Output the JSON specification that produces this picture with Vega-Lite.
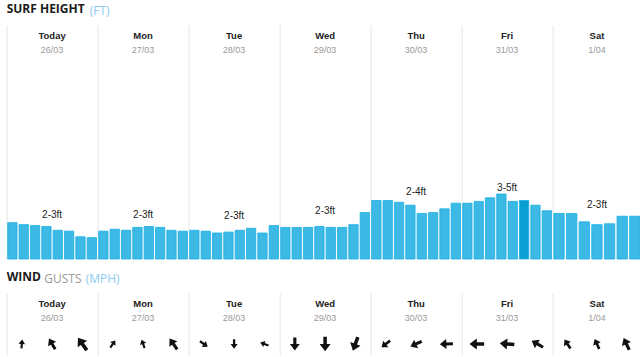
{
  "$schema": "https://vega.github.io/schema/vega-lite/v6.json",
  "padding": {"left": 6.7, "top": 3, "right": 0, "bottom": 0},
  "background": "white",
  "datasets": {
    "surf": [
      {"day": "Today", "hour": 0, "ft": 2.79}, {"day": "Today", "hour": 3, "ft": 2.64}, {"day": "Today", "hour": 6, "ft": 2.57}, {"day": "Today", "hour": 9, "ft": 2.5},
      {"day": "Today", "hour": 12, "ft": 2.21}, {"day": "Today", "hour": 15, "ft": 2.14}, {"day": "Today", "hour": 18, "ft": 1.71}, {"day": "Today", "hour": 21, "ft": 1.64},
      {"day": "Mon", "hour": 0, "ft": 2.14}, {"day": "Mon", "hour": 3, "ft": 2.29}, {"day": "Mon", "hour": 6, "ft": 2.21}, {"day": "Mon", "hour": 9, "ft": 2.43},
      {"day": "Mon", "hour": 12, "ft": 2.5}, {"day": "Mon", "hour": 15, "ft": 2.43}, {"day": "Mon", "hour": 18, "ft": 2.21}, {"day": "Mon", "hour": 21, "ft": 2.14},
      {"day": "Tue", "hour": 0, "ft": 2.21}, {"day": "Tue", "hour": 3, "ft": 2.14}, {"day": "Tue", "hour": 6, "ft": 2.0}, {"day": "Tue", "hour": 9, "ft": 2.07},
      {"day": "Tue", "hour": 12, "ft": 2.21}, {"day": "Tue", "hour": 15, "ft": 2.36}, {"day": "Tue", "hour": 18, "ft": 2.0}, {"day": "Tue", "hour": 21, "ft": 2.57},
      {"day": "Wed", "hour": 0, "ft": 2.43}, {"day": "Wed", "hour": 3, "ft": 2.43}, {"day": "Wed", "hour": 6, "ft": 2.43}, {"day": "Wed", "hour": 9, "ft": 2.5},
      {"day": "Wed", "hour": 12, "ft": 2.43}, {"day": "Wed", "hour": 15, "ft": 2.43}, {"day": "Wed", "hour": 18, "ft": 2.64}, {"day": "Wed", "hour": 21, "ft": 3.57},
      {"day": "Thu", "hour": 0, "ft": 4.5}, {"day": "Thu", "hour": 3, "ft": 4.5}, {"day": "Thu", "hour": 6, "ft": 4.36}, {"day": "Thu", "hour": 9, "ft": 4.14},
      {"day": "Thu", "hour": 12, "ft": 3.5}, {"day": "Thu", "hour": 15, "ft": 3.57}, {"day": "Thu", "hour": 18, "ft": 3.86}, {"day": "Thu", "hour": 21, "ft": 4.29},
      {"day": "Fri", "hour": 0, "ft": 4.29}, {"day": "Fri", "hour": 3, "ft": 4.43}, {"day": "Fri", "hour": 6, "ft": 4.71}, {"day": "Fri", "hour": 9, "ft": 5.0},
      {"day": "Fri", "hour": 12, "ft": 4.43}, {"day": "Fri", "hour": 15, "ft": 4.5, "selected": true}, {"day": "Fri", "hour": 18, "ft": 4.14}, {"day": "Fri", "hour": 21, "ft": 3.71},
      {"day": "Sat", "hour": 0, "ft": 3.5}, {"day": "Sat", "hour": 3, "ft": 3.5}, {"day": "Sat", "hour": 6, "ft": 2.86}, {"day": "Sat", "hour": 9, "ft": 2.64},
      {"day": "Sat", "hour": 12, "ft": 2.71}, {"day": "Sat", "hour": 15, "ft": 3.29}, {"day": "Sat", "hour": 18, "ft": 3.29}
    ],
    "days": [
      {"day": "Today", "date": "26/03", "range": "2-3ft"},
      {"day": "Mon", "date": "27/03", "range": "2-3ft"},
      {"day": "Tue", "date": "28/03", "range": "2-3ft"},
      {"day": "Wed", "date": "29/03", "range": "2-3ft"},
      {"day": "Thu", "date": "30/03", "range": "2-4ft"},
      {"day": "Fri", "date": "31/03", "range": "3-5ft"},
      {"day": "Sat", "date": "1/04", "range": "2-3ft"}
    ],
    "wind": [
      {"day": "Today", "hour": 6, "dir": 5, "gust": 12}, {"day": "Today", "hour": 12, "dir": 330, "gust": 17}, {"day": "Today", "hour": 18, "dir": 325, "gust": 21},
      {"day": "Mon", "hour": 6, "dir": 35, "gust": 12}, {"day": "Mon", "hour": 12, "dir": 340, "gust": 12}, {"day": "Mon", "hour": 18, "dir": 325, "gust": 18},
      {"day": "Tue", "hour": 6, "dir": 125, "gust": 13}, {"day": "Tue", "hour": 12, "dir": 180, "gust": 13}, {"day": "Tue", "hour": 18, "dir": 290, "gust": 12},
      {"day": "Wed", "hour": 6, "dir": 180, "gust": 18}, {"day": "Wed", "hour": 12, "dir": 180, "gust": 20}, {"day": "Wed", "hour": 18, "dir": 200, "gust": 20},
      {"day": "Thu", "hour": 6, "dir": 232, "gust": 15}, {"day": "Thu", "hour": 12, "dir": 245, "gust": 17}, {"day": "Thu", "hour": 18, "dir": 268, "gust": 18},
      {"day": "Fri", "hour": 6, "dir": 270, "gust": 20}, {"day": "Fri", "hour": 12, "dir": 275, "gust": 20}, {"day": "Fri", "hour": 18, "dir": 300, "gust": 18},
      {"day": "Sat", "hour": 6, "dir": 327, "gust": 15}, {"day": "Sat", "hour": 12, "dir": 335, "gust": 15}, {"day": "Sat", "hour": 18, "dir": 335, "gust": 18}
    ]
  },
  "config": {
    "view": {"stroke": null},
    "concat": {"spacing": 0},
    "axis": {"grid": false, "ticks": false, "labels": false, "domainColor": "#e6e6e6", "domainWidth": 1},
    "title": {
      "font": "Liberation Sans", "fontSize": 9.5, "fontWeight": "bold", "color": "#222222",
      "subtitleFont": "Liberation Sans", "subtitleFontSize": 9, "subtitleColor": "#9a9a9a",
      "subtitlePadding": 5.5, "offset": -30, "anchor": "middle"
    }
  },
  "spacing": 11,
  "vconcat": [
    {
      "title": {"text": "(FT)", "font": "Open Sans", "fontSize": 12, "fontWeight": "normal", "color": "#8ccbf0", "anchor": "start", "dx": 83, "offset": -24, "baseline": "alphabetic"},
      "vconcat": [
        {
          "title": {"text": "SURF HEIGHT", "font": "Open Sans", "fontSize": 12, "fontWeight": "bold", "color": "#1a1a1a", "anchor": "start", "offset": 0, "baseline": "alphabetic"},
          "hconcat": [
            {"width": 90.8, "height": 234, "title": {"text": "Today", "subtitle": "26/03"}, "data": {"name": "surf"}, "transform": [{"filter": "datum.day === 'Today'"}],
             "layer": [
               {"mark": {"type": "bar", "stroke": "#17ade4", "strokeWidth": 0.8}, "encoding": {"x": {"field": "hour", "type": "ordinal", "axis": null, "scale": {"paddingInner": 0.18, "paddingOuter": 0.09}}, "y": {"field": "ft", "type": "quantitative", "title": null, "scale": {"domain": [0, 16.7]}}, "color": {"condition": {"test": "datum.selected === true", "value": "#0a9ed2"}, "value": "#3db9e6"}}},
               {"transform": [{"aggregate": [{"op": "mean", "field": "ft", "as": "mean_ft"}], "groupby": ["day"]}, {"lookup": "day", "from": {"data": {"name": "days"}, "key": "day", "fields": ["range"]}}], "mark": {"type": "text", "dy": -14, "font": "Liberation Sans", "fontSize": 10, "color": "#222222"}, "encoding": {"y": {"field": "mean_ft", "type": "quantitative", "title": null}, "text": {"field": "range"}}}
             ]},
            {"width": 90.8, "height": 234, "title": {"text": "Mon", "subtitle": "27/03"}, "data": {"name": "surf"}, "transform": [{"filter": "datum.day === 'Mon'"}],
             "layer": [
               {"mark": {"type": "bar", "stroke": "#17ade4", "strokeWidth": 0.8}, "encoding": {"x": {"field": "hour", "type": "ordinal", "axis": null, "scale": {"paddingInner": 0.18, "paddingOuter": 0.09}}, "y": {"field": "ft", "type": "quantitative", "title": null, "scale": {"domain": [0, 16.7]}}, "color": {"condition": {"test": "datum.selected === true", "value": "#0a9ed2"}, "value": "#3db9e6"}}},
               {"transform": [{"aggregate": [{"op": "mean", "field": "ft", "as": "mean_ft"}], "groupby": ["day"]}, {"lookup": "day", "from": {"data": {"name": "days"}, "key": "day", "fields": ["range"]}}], "mark": {"type": "text", "dy": -14, "font": "Liberation Sans", "fontSize": 10, "color": "#222222"}, "encoding": {"y": {"field": "mean_ft", "type": "quantitative", "title": null}, "text": {"field": "range"}}}
             ]},
            {"width": 90.8, "height": 234, "title": {"text": "Tue", "subtitle": "28/03"}, "data": {"name": "surf"}, "transform": [{"filter": "datum.day === 'Tue'"}],
             "layer": [
               {"mark": {"type": "bar", "stroke": "#17ade4", "strokeWidth": 0.8}, "encoding": {"x": {"field": "hour", "type": "ordinal", "axis": null, "scale": {"paddingInner": 0.18, "paddingOuter": 0.09}}, "y": {"field": "ft", "type": "quantitative", "title": null, "scale": {"domain": [0, 16.7]}}, "color": {"condition": {"test": "datum.selected === true", "value": "#0a9ed2"}, "value": "#3db9e6"}}},
               {"transform": [{"aggregate": [{"op": "mean", "field": "ft", "as": "mean_ft"}], "groupby": ["day"]}, {"lookup": "day", "from": {"data": {"name": "days"}, "key": "day", "fields": ["range"]}}], "mark": {"type": "text", "dy": -14, "font": "Liberation Sans", "fontSize": 10, "color": "#222222"}, "encoding": {"y": {"field": "mean_ft", "type": "quantitative", "title": null}, "text": {"field": "range"}}}
             ]},
            {"width": 90.8, "height": 234, "title": {"text": "Wed", "subtitle": "29/03"}, "data": {"name": "surf"}, "transform": [{"filter": "datum.day === 'Wed'"}],
             "layer": [
               {"mark": {"type": "bar", "stroke": "#17ade4", "strokeWidth": 0.8}, "encoding": {"x": {"field": "hour", "type": "ordinal", "axis": null, "scale": {"paddingInner": 0.18, "paddingOuter": 0.09}}, "y": {"field": "ft", "type": "quantitative", "title": null, "scale": {"domain": [0, 16.7]}}, "color": {"condition": {"test": "datum.selected === true", "value": "#0a9ed2"}, "value": "#3db9e6"}}},
               {"transform": [{"aggregate": [{"op": "mean", "field": "ft", "as": "mean_ft"}], "groupby": ["day"]}, {"lookup": "day", "from": {"data": {"name": "days"}, "key": "day", "fields": ["range"]}}], "mark": {"type": "text", "dy": -14, "font": "Liberation Sans", "fontSize": 10, "color": "#222222"}, "encoding": {"y": {"field": "mean_ft", "type": "quantitative", "title": null}, "text": {"field": "range"}}}
             ]},
            {"width": 90.8, "height": 234, "title": {"text": "Thu", "subtitle": "30/03"}, "data": {"name": "surf"}, "transform": [{"filter": "datum.day === 'Thu'"}],
             "layer": [
               {"mark": {"type": "bar", "stroke": "#17ade4", "strokeWidth": 0.8}, "encoding": {"x": {"field": "hour", "type": "ordinal", "axis": null, "scale": {"paddingInner": 0.18, "paddingOuter": 0.09}}, "y": {"field": "ft", "type": "quantitative", "title": null, "scale": {"domain": [0, 16.7]}}, "color": {"condition": {"test": "datum.selected === true", "value": "#0a9ed2"}, "value": "#3db9e6"}}},
               {"transform": [{"aggregate": [{"op": "mean", "field": "ft", "as": "mean_ft"}], "groupby": ["day"]}, {"lookup": "day", "from": {"data": {"name": "days"}, "key": "day", "fields": ["range"]}}], "mark": {"type": "text", "dy": -14, "font": "Liberation Sans", "fontSize": 10, "color": "#222222"}, "encoding": {"y": {"field": "mean_ft", "type": "quantitative", "title": null}, "text": {"field": "range"}}}
             ]},
            {"width": 90.8, "height": 234, "title": {"text": "Fri", "subtitle": "31/03"}, "data": {"name": "surf"}, "transform": [{"filter": "datum.day === 'Fri'"}],
             "layer": [
               {"mark": {"type": "bar", "stroke": "#17ade4", "strokeWidth": 0.8}, "encoding": {"x": {"field": "hour", "type": "ordinal", "axis": null, "scale": {"paddingInner": 0.18, "paddingOuter": 0.09}}, "y": {"field": "ft", "type": "quantitative", "title": null, "scale": {"domain": [0, 16.7]}}, "color": {"condition": {"test": "datum.selected === true", "value": "#0a9ed2"}, "value": "#3db9e6"}}},
               {"transform": [{"aggregate": [{"op": "mean", "field": "ft", "as": "mean_ft"}], "groupby": ["day"]}, {"lookup": "day", "from": {"data": {"name": "days"}, "key": "day", "fields": ["range"]}}], "mark": {"type": "text", "dy": -14, "font": "Liberation Sans", "fontSize": 10, "color": "#222222"}, "encoding": {"y": {"field": "mean_ft", "type": "quantitative", "title": null}, "text": {"field": "range"}}}
             ]},
            {"width": 88.5, "height": 234, "title": {"text": "Sat", "subtitle": "1/04"}, "data": {"name": "surf"}, "transform": [{"filter": "datum.day === 'Sat'"}],
             "layer": [
               {"mark": {"type": "bar", "stroke": "#17ade4", "strokeWidth": 0.8}, "encoding": {"x": {"field": "hour", "type": "ordinal", "axis": null, "scale": {"paddingInner": 0.18, "paddingOuter": 0.09}}, "y": {"field": "ft", "type": "quantitative", "title": null, "scale": {"domain": [0, 16.7]}}, "color": {"condition": {"test": "datum.selected === true", "value": "#0a9ed2"}, "value": "#3db9e6"}}},
               {"transform": [{"aggregate": [{"op": "mean", "field": "ft", "as": "mean_ft"}], "groupby": ["day"]}, {"lookup": "day", "from": {"data": {"name": "days"}, "key": "day", "fields": ["range"]}}], "mark": {"type": "text", "dy": -14, "font": "Liberation Sans", "fontSize": 10, "color": "#222222"}, "encoding": {"y": {"field": "mean_ft", "type": "quantitative", "title": null}, "text": {"field": "range"}}}
             ]}
          ]
        }
      ]
    },
    {
      "title": {"text": "(MPH)", "font": "Open Sans", "fontSize": 12, "fontWeight": "normal", "color": "#8ccbf0", "anchor": "start", "dx": 79, "offset": -24, "baseline": "alphabetic"},
      "vconcat": [
        {
          "title": {"text": "GUSTS", "font": "Open Sans", "fontSize": 12, "fontWeight": "normal", "color": "#9a9a9a", "anchor": "start", "dx": 37.6, "offset": -24, "baseline": "alphabetic"},
          "vconcat": [
            {
              "title": {"text": "WIND", "font": "Open Sans", "fontSize": 12, "fontWeight": "bold", "color": "#1a1a1a", "anchor": "start", "offset": 0, "baseline": "alphabetic"},
              "hconcat": [
                {"width": 90.8, "height": 62.3, "title": {"text": "Today", "subtitle": "26/03"}, "data": {"name": "wind"}, "transform": [{"filter": "datum.day === 'Today'"}],
                 "mark": {"type": "point", "shape": "M0,-1L0.75,0L0.24,0L0.24,1L-0.24,1L-0.24,0L-0.75,0Z", "filled": true, "color": "#111111", "opacity": 1},
                 "encoding": {"x": {"field": "hour", "type": "ordinal", "axis": null}, "y": {"datum": 0, "type": "quantitative", "title": null, "scale": {"domain": [-1, 4.5]}}, "angle": {"field": "dir", "type": "quantitative", "scale": null}, "size": {"field": "gust", "type": "quantitative", "legend": null, "scale": {"type": "pow", "exponent": 2, "domain": [0, 30], "range": [0, 480]}}}},
                {"width": 90.8, "height": 62.3, "title": {"text": "Mon", "subtitle": "27/03"}, "data": {"name": "wind"}, "transform": [{"filter": "datum.day === 'Mon'"}],
                 "mark": {"type": "point", "shape": "M0,-1L0.75,0L0.24,0L0.24,1L-0.24,1L-0.24,0L-0.75,0Z", "filled": true, "color": "#111111", "opacity": 1},
                 "encoding": {"x": {"field": "hour", "type": "ordinal", "axis": null}, "y": {"datum": 0, "type": "quantitative", "title": null, "scale": {"domain": [-1, 4.5]}}, "angle": {"field": "dir", "type": "quantitative", "scale": null}, "size": {"field": "gust", "type": "quantitative", "legend": null, "scale": {"type": "pow", "exponent": 2, "domain": [0, 30], "range": [0, 480]}}}},
                {"width": 90.8, "height": 62.3, "title": {"text": "Tue", "subtitle": "28/03"}, "data": {"name": "wind"}, "transform": [{"filter": "datum.day === 'Tue'"}],
                 "mark": {"type": "point", "shape": "M0,-1L0.75,0L0.24,0L0.24,1L-0.24,1L-0.24,0L-0.75,0Z", "filled": true, "color": "#111111", "opacity": 1},
                 "encoding": {"x": {"field": "hour", "type": "ordinal", "axis": null}, "y": {"datum": 0, "type": "quantitative", "title": null, "scale": {"domain": [-1, 4.5]}}, "angle": {"field": "dir", "type": "quantitative", "scale": null}, "size": {"field": "gust", "type": "quantitative", "legend": null, "scale": {"type": "pow", "exponent": 2, "domain": [0, 30], "range": [0, 480]}}}},
                {"width": 90.8, "height": 62.3, "title": {"text": "Wed", "subtitle": "29/03"}, "data": {"name": "wind"}, "transform": [{"filter": "datum.day === 'Wed'"}],
                 "mark": {"type": "point", "shape": "M0,-1L0.75,0L0.24,0L0.24,1L-0.24,1L-0.24,0L-0.75,0Z", "filled": true, "color": "#111111", "opacity": 1},
                 "encoding": {"x": {"field": "hour", "type": "ordinal", "axis": null}, "y": {"datum": 0, "type": "quantitative", "title": null, "scale": {"domain": [-1, 4.5]}}, "angle": {"field": "dir", "type": "quantitative", "scale": null}, "size": {"field": "gust", "type": "quantitative", "legend": null, "scale": {"type": "pow", "exponent": 2, "domain": [0, 30], "range": [0, 480]}}}},
                {"width": 90.8, "height": 62.3, "title": {"text": "Thu", "subtitle": "30/03"}, "data": {"name": "wind"}, "transform": [{"filter": "datum.day === 'Thu'"}],
                 "mark": {"type": "point", "shape": "M0,-1L0.75,0L0.24,0L0.24,1L-0.24,1L-0.24,0L-0.75,0Z", "filled": true, "color": "#111111", "opacity": 1},
                 "encoding": {"x": {"field": "hour", "type": "ordinal", "axis": null}, "y": {"datum": 0, "type": "quantitative", "title": null, "scale": {"domain": [-1, 4.5]}}, "angle": {"field": "dir", "type": "quantitative", "scale": null}, "size": {"field": "gust", "type": "quantitative", "legend": null, "scale": {"type": "pow", "exponent": 2, "domain": [0, 30], "range": [0, 480]}}}},
                {"width": 90.8, "height": 62.3, "title": {"text": "Fri", "subtitle": "31/03"}, "data": {"name": "wind"}, "transform": [{"filter": "datum.day === 'Fri'"}],
                 "mark": {"type": "point", "shape": "M0,-1L0.75,0L0.24,0L0.24,1L-0.24,1L-0.24,0L-0.75,0Z", "filled": true, "color": "#111111", "opacity": 1},
                 "encoding": {"x": {"field": "hour", "type": "ordinal", "axis": null}, "y": {"datum": 0, "type": "quantitative", "title": null, "scale": {"domain": [-1, 4.5]}}, "angle": {"field": "dir", "type": "quantitative", "scale": null}, "size": {"field": "gust", "type": "quantitative", "legend": null, "scale": {"type": "pow", "exponent": 2, "domain": [0, 30], "range": [0, 480]}}}},
                {"width": 88.5, "height": 62.3, "title": {"text": "Sat", "subtitle": "1/04"}, "data": {"name": "wind"}, "transform": [{"filter": "datum.day === 'Sat'"}],
                 "mark": {"type": "point", "shape": "M0,-1L0.75,0L0.24,0L0.24,1L-0.24,1L-0.24,0L-0.75,0Z", "filled": true, "color": "#111111", "opacity": 1},
                 "encoding": {"x": {"field": "hour", "type": "ordinal", "axis": null}, "y": {"datum": 0, "type": "quantitative", "title": null, "scale": {"domain": [-1, 4.5]}}, "angle": {"field": "dir", "type": "quantitative", "scale": null}, "size": {"field": "gust", "type": "quantitative", "legend": null, "scale": {"type": "pow", "exponent": 2, "domain": [0, 30], "range": [0, 480]}}}}
              ]
            }
          ]
        }
      ]
    }
  ]
}
